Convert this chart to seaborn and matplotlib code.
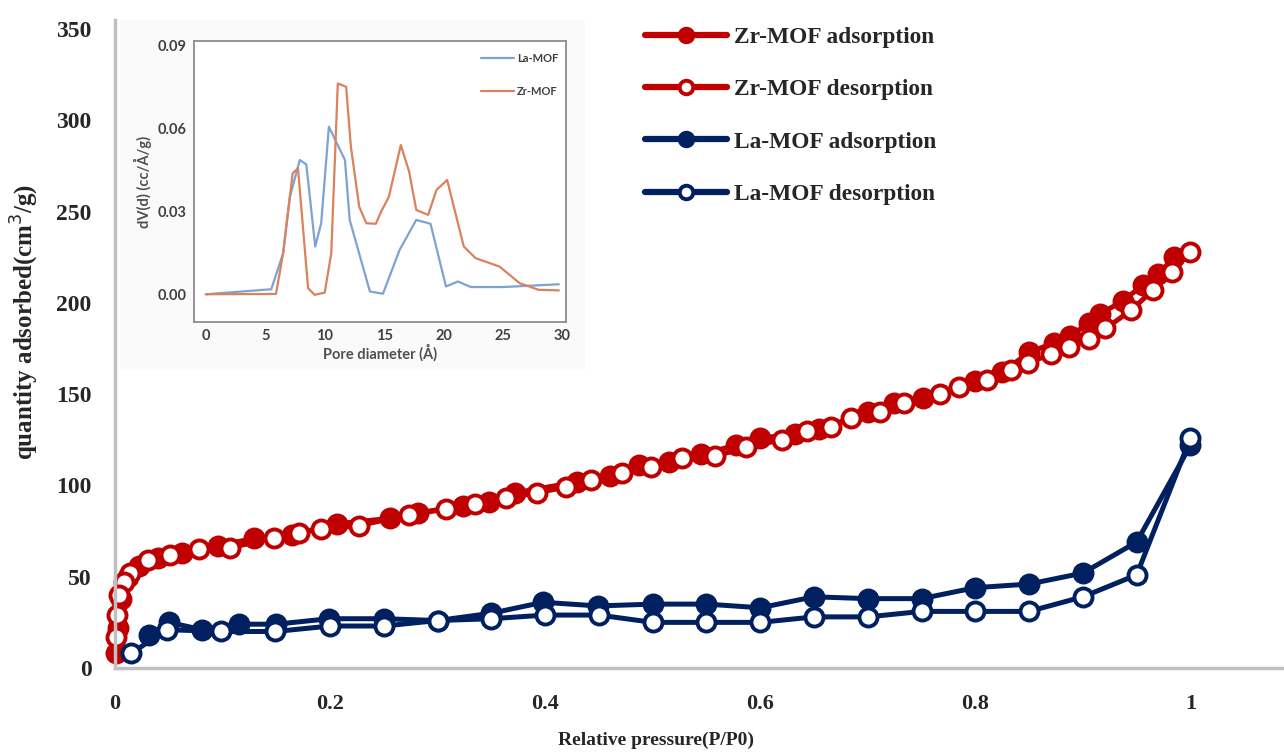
import numpy as np
import pandas as pd
import matplotlib
matplotlib.use("Agg")
import matplotlib.pyplot as plt
import seaborn as sns
from matplotlib.patches import Rectangle

# ---------------- data ----------------
zr_ads_x = [0.001, 0.003, 0.006, 0.012, 0.022, 0.040, 0.062, 0.096, 0.129, 0.165, 0.206,
            0.256, 0.282, 0.324, 0.348, 0.372, 0.430, 0.460, 0.487, 0.515, 0.545, 0.577,
            0.600, 0.632, 0.655, 0.700, 0.724, 0.751, 0.800, 0.825, 0.850, 0.873, 0.888,
            0.906, 0.916, 0.937, 0.956, 0.970, 0.985]
zr_ads_y = [8, 22, 38, 50, 56, 60, 63, 67, 71, 73, 79,
            82, 85, 89, 91, 96, 102, 105, 111, 113, 117, 122,
            126, 128, 131, 140, 145, 148, 157, 162, 173, 178, 182,
            189, 194, 201, 210, 216, 225]

zr_des_x = [1.000, 0.983, 0.965, 0.945, 0.921, 0.906, 0.887, 0.870, 0.849, 0.833, 0.811,
            0.785, 0.767, 0.734, 0.711, 0.684, 0.666, 0.643, 0.620, 0.587, 0.558, 0.527,
            0.498, 0.471, 0.443, 0.419, 0.392, 0.364, 0.335, 0.308, 0.273, 0.227, 0.192,
            0.171, 0.148, 0.107, 0.078, 0.051, 0.031, 0.014, 0.008, 0.004, 0.0015, 0.0005]
zr_des_y = [228, 217, 207, 196, 186, 180, 176, 172, 167, 163, 158,
            154, 150, 145, 140, 137, 132, 130, 125, 121, 116, 115,
            110, 107, 103, 99, 96, 93, 90, 87, 84, 78, 76,
            74, 71, 66, 65, 62, 59, 52, 47, 40, 29, 17]

la_ads_x = [0.032, 0.050, 0.081, 0.115, 0.150, 0.199, 0.250, 0.300, 0.350, 0.398, 0.449,
            0.500, 0.550, 0.600, 0.650, 0.700, 0.750, 0.800, 0.850, 0.900, 0.950, 1.000]
la_ads_y = [18, 25, 21, 24, 24, 27, 27, 26, 30, 36, 34,
            35, 35, 33, 39, 38, 38, 44, 46, 52, 69, 122]

la_des_x = [1.000, 0.950, 0.900, 0.850, 0.800, 0.750, 0.700, 0.650, 0.600, 0.550, 0.500,
            0.450, 0.400, 0.350, 0.300, 0.250, 0.200, 0.149, 0.099, 0.048, 0.015]
la_des_y = [126, 51, 39, 31, 31, 31, 28, 28, 25, 25, 25,
            29, 29, 27, 26, 23, 23, 20, 20, 21, 8]

# inset: pore size distribution
la_psd_d = [0.0, 5.5, 6.5, 7.05, 7.9, 8.45, 9.2, 9.7, 10.35, 11.7, 12.1, 13.8, 14.9,
            16.3, 17.7, 18.9, 20.2, 21.2, 22.3, 25.0, 29.7]
la_psd_v = [0.0002, 0.002, 0.015, 0.035, 0.0486, 0.047, 0.0174, 0.0258, 0.0606, 0.0486,
            0.027, 0.0012, 0.0004, 0.0162, 0.027, 0.0256, 0.003, 0.0048, 0.0028, 0.0028, 0.0038]
zr_psd_d = [0.0, 5.9, 6.5, 7.3, 7.75, 8.6, 9.15, 10.0, 10.55, 11.1, 11.8, 12.2, 12.9,
            13.5, 14.3, 14.75, 15.4, 16.4, 17.1, 17.7, 18.7, 19.4, 20.3, 21.7, 22.7,
            24.7, 26.4, 28.0, 29.7]
zr_psd_v = [0.0002, 0.0003, 0.015, 0.0438, 0.0456, 0.0024, 0.0, 0.0008, 0.015, 0.0762,
            0.075, 0.0534, 0.0318, 0.0258, 0.0256, 0.030, 0.0354, 0.054, 0.0444, 0.0306,
            0.0288, 0.0378, 0.0414, 0.0174, 0.0132, 0.0102, 0.0042, 0.0018, 0.0016]

series_labels = ["Zr-MOF adsorption", "Zr-MOF desorption", "La-MOF adsorption", "La-MOF desorption"]
y_ticks = [0, 50, 100, 150, 200, 250, 300, 350]
x_ticks = [0, 0.2, 0.4, 0.6, 0.8, 1.0]
x_ticklabels = ["0", "0.2", "0.4", "0.6", "0.8", "1"]
inset_xticks = [0, 5, 10, 15, 20, 25, 30]
inset_yticks = [0.00, 0.03, 0.06, 0.09]

# ---------------- style ----------------
sns.set_theme(style="white")
plt.rcParams["font.family"] = ["Liberation Serif", "DejaVu Serif"]

RED = "#C00000"
BLUE = "#002060"

W, H = 1284, 755
fig = plt.figure(figsize=(W / 100, H / 100), dpi=100)
ax = fig.add_axes([115 / W, 87 / H, 1169 / W, 648 / H])

common = dict(estimator=None, sort=False, linewidth=3.6, marker="o",
              markersize=13, markeredgewidth=2.8, clip_on=False)

sns.lineplot(x=zr_ads_x, y=zr_ads_y, ax=ax, color=RED, markerfacecolor=RED,
             markeredgecolor=RED, label=series_labels[0], **common)
sns.lineplot(x=zr_des_x, y=zr_des_y, ax=ax, color=RED, markerfacecolor="white",
             markeredgecolor=RED, label=series_labels[1], **common)
sns.lineplot(x=la_ads_x, y=la_ads_y, ax=ax, color=BLUE, markerfacecolor=BLUE,
             markeredgecolor=BLUE, label=series_labels[2], **common)
sns.lineplot(x=la_des_x, y=la_des_y, ax=ax, color=BLUE, markerfacecolor="white",
             markeredgecolor=BLUE, label=series_labels[3], **common)

ax.set_xlim(0, 1.087)
ax.set_ylim(0, 355)
ax.set_yticks(y_ticks)
ax.set_xticks(x_ticks)
ax.set_xticklabels(x_ticklabels)
ax.tick_params(axis="y", length=0, pad=17, labelsize=17)
ax.tick_params(axis="x", length=0, pad=19, labelsize=16)
for lab in ax.get_xticklabels() + ax.get_yticklabels():
    lab.set_fontweight("bold")
for s in ["top", "right"]:
    ax.spines[s].set_visible(False)
for s in ["left", "bottom"]:
    ax.spines[s].set_color("#C0C0C0")
    ax.spines[s].set_linewidth(2.5)
ax.set_facecolor("white")

ax.set_xlabel("Relative pressure(P/P0)", fontsize=14, fontweight="bold")
ax.xaxis.set_label_coords((656 - 115) / 1169, -(732 - 668) / 648)
ax.xaxis.label.set_va("top")
ax.set_ylabel("quantity adsorbed(cm$^3$/g)", fontsize=18, fontweight="bold")
ax.yaxis.set_label_coords(-(115 - 25) / 1169, (668 - 322) / 648)
ax.yaxis.label.set_va("center")

leg = ax.legend(loc="upper left", bbox_to_anchor=(645 / W, 1 - 27 / H),
                bbox_transform=fig.transFigure, frameon=False,
                prop={"family": "Liberation Serif", "weight": "bold", "size": 16.8},
                handlelength=3.5, handletextpad=0.3, labelspacing=1.32,
                borderpad=0, borderaxespad=0, markerscale=0.75)
for h in leg.legend_handles:
    h.set_linewidth(4.5)

# ---------------- inset ----------------
bg = Rectangle((120 / W, (H - 370) / H), 465 / W, 350 / H, transform=fig.transFigure,
               facecolor="#FAFAFA", edgecolor="none", zorder=0.5)
fig.patches.append(bg)

ins = fig.add_axes([194 / W, (H - 322) / H, (566 - 194) / W, (322 - 41) / H], zorder=3)
ins.set_facecolor("white")
sns.lineplot(x=la_psd_d, y=la_psd_v, ax=ins, color="#7FA2D4", linewidth=1.6,
             estimator=None, sort=False, label="La-MOF")
sns.lineplot(x=zr_psd_d, y=zr_psd_v, ax=ins, color="#D9825E", linewidth=1.6,
             estimator=None, sort=False, label="Zr-MOF")
ins.set_xlim(-1.0, 30.3)
ins.set_ylim(-0.0098, 0.0915)
ins.set_xticks(inset_xticks)
ins.set_yticks(inset_yticks)
ins.set_yticklabels([f"{v:.2f}" for v in inset_yticks])
sans = ["Lato", "DejaVu Sans"]
ins.tick_params(length=0, pad=5, labelsize=10.5, colors="#404040")
for lab in ins.get_xticklabels() + ins.get_yticklabels():
    lab.set_family(sans)
    lab.set_fontweight("bold")
for s in ins.spines.values():
    s.set_color("#8C8C8C")
    s.set_linewidth(1.3)
    s.set_visible(True)
ins.set_xlabel("Pore diameter (Å)", fontsize=10.5, fontweight="bold", family=sans,
               color="#505050", labelpad=1)
ins.set_ylabel("dV(d) (cc/Å/g)", fontsize=10.5, fontweight="bold", family=sans,
               color="#505050", labelpad=4)
il = ins.legend(loc="upper right", bbox_to_anchor=(1.0, 0.985), frameon=False,
                prop={"family": sans, "weight": "bold", "size": 8},
                handlelength=2.9, handletextpad=0.3, labelspacing=2.0, borderaxespad=0.3)
for t in il.get_texts():
    t.set_color("#404040")

fig.savefig("out.png", dpi=100, facecolor="white")
